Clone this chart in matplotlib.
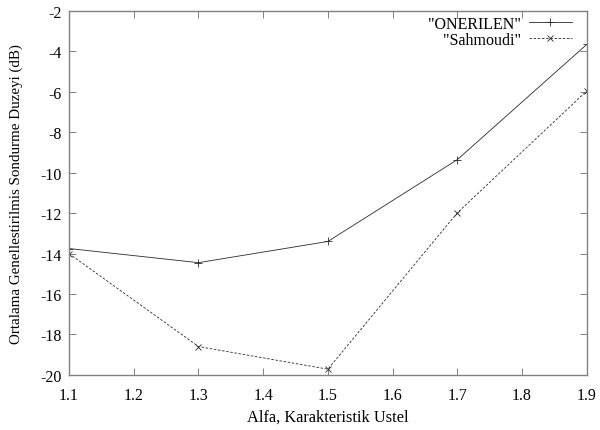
import matplotlib
matplotlib.use("Agg")
import matplotlib.pyplot as plt

alfa = [1.1, 1.3, 1.5, 1.7, 1.9]
onerilen = [-13.75, -14.45, -13.4, -9.35, -3.65]
sahmoudi = [-14.0, -18.6, -19.72, -11.98, -5.95]

xticks = [1.1, 1.2, 1.3, 1.4, 1.5, 1.6, 1.7, 1.8, 1.9]
yticks = [-20, -18, -16, -14, -12, -10, -8, -6, -4, -2]

plt.rcParams["font.family"] = ["Liberation Serif", "DejaVu Serif"]

fig = plt.figure(figsize=(6.0, 4.31), dpi=100)
ax = fig.add_axes([0.115, 0.128, 0.863, 0.844])

line_col = "#2a2a2a"
ax.plot(alfa, onerilen, color=line_col, lw=0.6, marker="+", ms=6, mew=0.6,
        label='"ONERILEN"')
ax.plot(alfa, sahmoudi, color=line_col, lw=0.6, ls=(0, (3, 2)), marker="x", ms=4.5,
        mew=0.6, label='"Sahmoudi"')

ax.set_xlim(1.1, 1.9)
ax.set_ylim(-20, -2)
ax.set_xticks(xticks)
ax.set_yticks(yticks)
ax.set_xticklabels([f"{v:.1f}" for v in xticks])
ax.set_yticklabels([str(v) for v in yticks])
ax.tick_params(direction="in", length=5, width=0.7, color="#808080",
               top=True, right=True, labelsize=11.5)
ax.tick_params(axis="x", pad=9)
ax.tick_params(axis="y", pad=5)
for s in ax.spines.values():
    s.set_color("#808080")
    s.set_linewidth(1.0)

ax.set_xlabel("Alfa, Karakteristik Ustel", fontsize=11.8, labelpad=4)
ax.set_ylabel("Ortalama Genellestirilmis Sondurme Duzeyi (dB)", fontsize=10.8,
              labelpad=13)

ax.legend(loc="upper right", frameon=False, markerfirst=False, fontsize=11.5,
          handlelength=2.7, handletextpad=0.5, borderaxespad=0.1,
          borderpad=0.2, labelspacing=0.0, bbox_to_anchor=(0.98, 1.0))

fig.savefig("out.png", dpi=100)
